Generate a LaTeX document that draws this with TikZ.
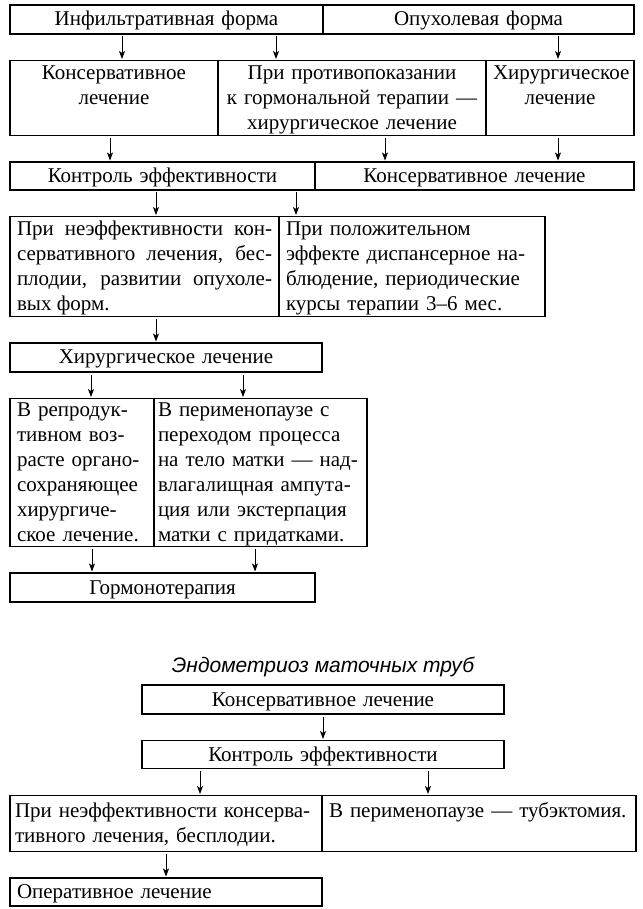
\documentclass[tikz,border=0pt]{standalone}
\usepackage{fontspec}
\setmainfont{Liberation Serif}
\newfontfamily\titlefont{Liberation Sans}
\usepackage{tikz}
\usetikzlibrary{arrows.meta,positioning}
\newcommand{\cellfont}{\fontsize{21pt}{25pt}\selectfont}
\hyphenpenalty=10000
\setlength{\parindent}{0pt}

\begin{document}
\begin{tikzpicture}[
node distance=26.5pt and 0pt,
cell/.style={draw, line width=1.1pt, rectangle, outer sep=0pt, inner xsep=7pt, inner ysep=0pt, align=center, font=\cellfont,
  execute at begin node={\rule{0pt}{17.5pt}}, execute at end node={\rule[-4.5pt]{0pt}{0pt}}},
lcell/.style={cell, align=left},
arr/.style={-{Stealth[length=8pt,width=6pt,inset=2pt]}, line width=0.8pt, shorten <=2.5pt, shorten >=1.5pt},
]
\useasboundingbox (0,0) rectangle (642pt,-909pt);
% Infiltrative / tumour forms
\node[cell, anchor=north west, text width=299pt, minimum height=29pt] (inf) at (10pt,-5pt) {Инфильтративная форма};
\node[cell, right=of inf, text width=297pt, minimum height=29pt] (opu) {Опухолевая форма};
\node[cell, below right=of inf.south west, text width=194pt, minimum height=75pt] (kons1) {Консервативное\\лечение\\ \mbox{}};
\node[cell, right=of kons1, text width=254pt, minimum height=75pt] (prot) {При противопоказании\\к гормональной терапии —\\хирургическое лечение};
\node[cell, right=of prot, text width=134pt, minimum height=75pt] (hir1) {Хирургическое\\лечение\\ \mbox{}};
\node[cell, below right=of kons1.south west, text width=291pt, minimum height=28pt] (kontr1) {Контроль эффективности};
\node[cell, right=of kontr1, text width=305pt, minimum height=28pt] (kons2) {Консервативное лечение};
\node[cell, align=justify, below right=of kontr1.south west, text width=255pt, minimum height=100pt] (neef1) {При неэффективности кон-\linebreak сервативного лечения, бес-\linebreak плодии, развитии опухоле-\linebreak вых форм.};
\node[lcell, right=of neef1, text width=252pt, minimum height=100pt] (pol) {При положительном\\эффекте диспансерное на-\\блюдение, периодические\\курсы терапии 3–6 мес.};
\node[cell, below right=of neef1.south west, text width=298pt, minimum height=29pt] (hir2) {Хирургическое лечение};
\node[lcell, below right=of hir2.south west, text width=130pt, minimum height=148pt] (repr) {В репродук-\\тивном воз-\\расте органо-\\сохраняющее\\хирургиче-\\ское лечение.};
\node[lcell, right=of repr, inner xsep=4pt, text width=205pt, minimum height=148pt] (peri) {В перименопаузе с\\переходом процесса\\на тело матки — над-\\влагалищная ампута-\\ция или экстерпация\\матки с придатками.};
\node[cell, below right=of repr.south west, text width=291pt, minimum height=29pt] (gorm) {Гормонотерапия};
% Fallopian tubes
\node[cell, below right=83pt and 132pt of gorm.south west, text width=348pt, minimum height=29pt] (kons3) {Консервативное лечение};
\node[font=\titlefont\itshape\fontsize{21pt}{25pt}\selectfont, inner sep=0pt, above=8pt of kons3] (ttl) {Эндометриоз маточных труб};
\node[cell, below right=of kons3.south west, text width=348pt, minimum height=28pt] (kontr2) {Контроль эффективности};
\node[lcell, below right=27pt and -132pt of kontr2.south west, inner xsep=5pt, text width=302pt, minimum height=56pt] (neef2) {При неэффективности консерва-\\тивного лечения, бесплодии.};
\node[lcell, right=of neef2, text width=300pt, minimum height=56pt] (tub) {В перименопаузе — тубэктомия.\\ \mbox{}};
\node[lcell, below right=of neef2.south west, text width=298pt, minimum height=28pt] (oper) {Оперативное лечение};
% arrows
\draw[arr] ([xshift=-44.5pt]inf.south) -- ([xshift=-44.5pt]inf.south |- kons1.north);
\draw[arr] ([xshift=-76pt]prot.north |- inf.south) -- ([xshift=-76pt]prot.north);
\draw[arr] ([xshift=-2pt]hir1.north |- opu.south) -- ([xshift=-2pt]hir1.north);
\draw[arr] ([xshift=-4pt]kons1.south) -- ([xshift=-4pt]kons1.south |- kontr1.north);
\draw[arr] ([xshift=33pt]prot.south) -- ([xshift=33pt]prot.south |- kons2.north);
\draw[arr] ([xshift=-2pt]hir1.south) -- ([xshift=-2pt]hir1.south |- kons2.north);
\draw[arr] ([xshift=-6.5pt]kontr1.south) -- ([xshift=-6.5pt]kontr1.south |- neef1.north);
\draw[arr] ([xshift=-116pt]pol.north |- kontr1.south) -- ([xshift=-116pt]pol.north);
\draw[arr] ([xshift=11.5pt]neef1.south) -- ([xshift=11.5pt]neef1.south |- hir2.north);
\draw[arr] ([xshift=9pt]repr.north |- hir2.south) -- ([xshift=9pt]repr.north);
\draw[arr] ([xshift=-17.5pt]peri.north |- hir2.south) -- ([xshift=-17.5pt]peri.north);
\draw[arr] ([xshift=10pt]repr.south) -- ([xshift=10pt]repr.south |- gorm.north);
\draw[arr] ([xshift=-5.5pt]peri.south) -- ([xshift=-5.5pt]peri.south |- gorm.north);
\draw[arr] (kons3.south) -- (kontr2.north);
\draw[arr] ([xshift=-123pt]kontr2.south) -- ([xshift=-123pt]kontr2.south |- neef2.north);
\draw[arr] ([xshift=105pt]kontr2.south) -- ([xshift=105pt]kontr2.south |- tub.north);
\draw[arr] (neef2.south) -- (oper.north);
\end{tikzpicture}
\end{document}
